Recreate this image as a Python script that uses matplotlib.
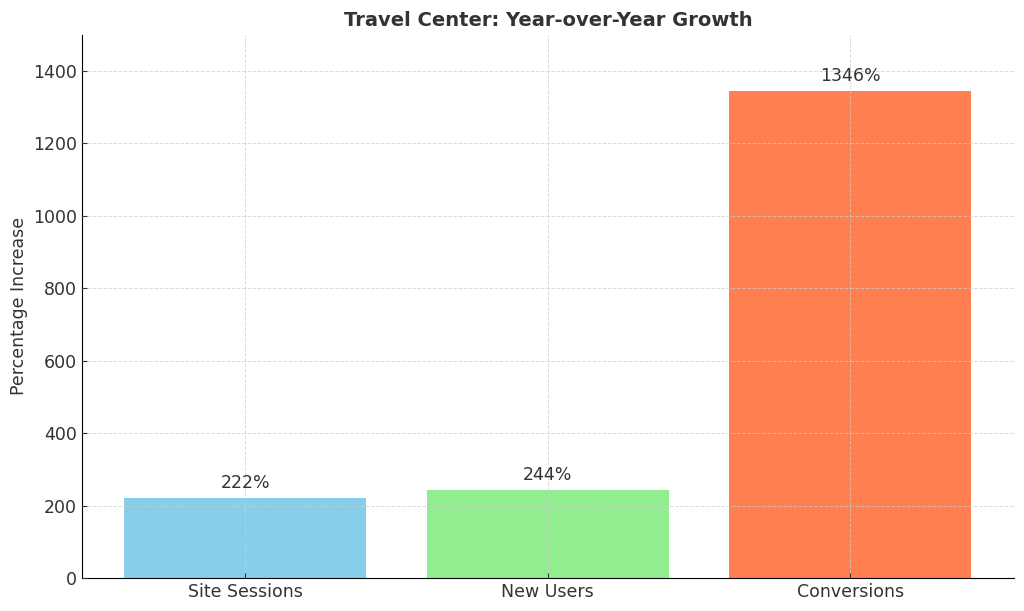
import matplotlib
matplotlib.use("Agg")
import matplotlib.pyplot as plt

categories = ["Site Sessions", "New Users", "Conversions"]
growth = [222, 244, 1346]
colors = ["skyblue", "lightgreen", "coral"]

plt.rcParams["text.color"] = "#333333"
plt.rcParams["axes.labelcolor"] = "#333333"
plt.rcParams["xtick.color"] = "#333333"
plt.rcParams["ytick.color"] = "#333333"

fig, ax = plt.subplots(figsize=(10.24, 6.11), dpi=100)
bars = ax.bar(categories, growth, color=colors, width=0.8)

for b, v in zip(bars, growth):
    ax.text(b.get_x() + b.get_width() / 2, v + 15, f"{v}%",
            ha="center", va="bottom", fontsize=12.5)

ax.set_ylim(0, 1500)
ax.set_title("Travel Center: Year-over-Year Growth", fontsize=14, fontweight="bold")
ax.set_ylabel("Percentage Increase", fontsize=12.5)
ax.tick_params(axis="both", direction="in", labelsize=12.5)
ax.grid(True, linestyle="--", linewidth=0.7, color="#cccccc", alpha=0.7)
ax.set_axisbelow(False)
ax.spines["top"].set_visible(False)
ax.spines["right"].set_visible(False)

fig.subplots_adjust(left=0.08, right=0.99, top=0.943, bottom=0.054)
fig.savefig("out.png", dpi=100)
